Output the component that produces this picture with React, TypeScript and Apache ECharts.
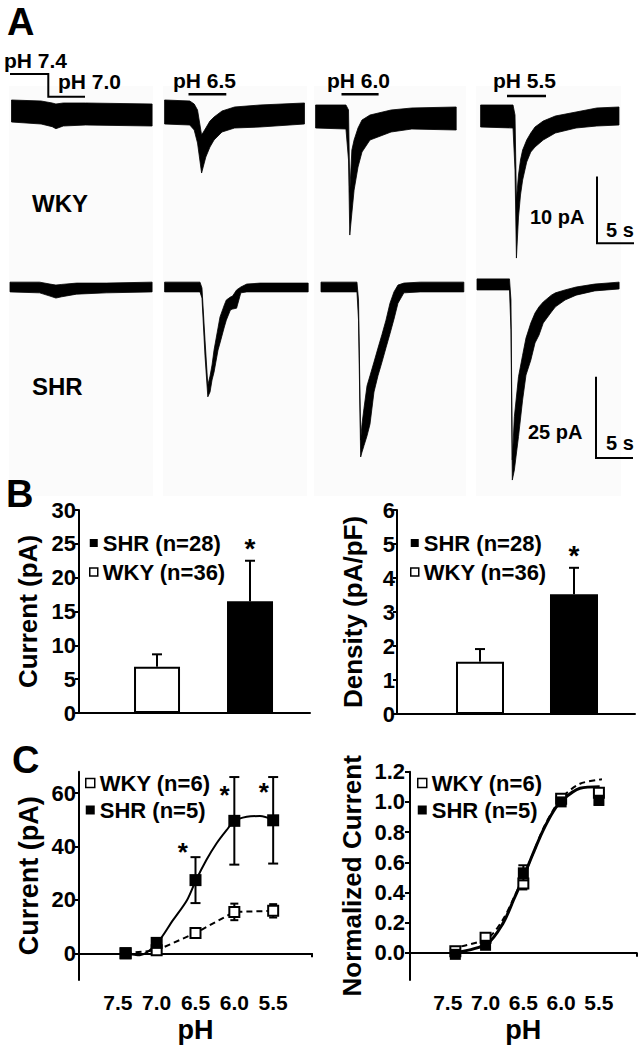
import React, { useEffect, useRef } from "react";
import * as echarts from "echarts";

const FONT = "'Liberation Sans', Arial, Helvetica, sans-serif";

// ---------------- Panel A: current traces ----------------
// time (s), upper and lower edge of the noisy trace band (pA)
const wky70T = [0, 4, 5.5, 6, 7, 10, 19];
const wky70Up = [1.8, 1.65, 1.35, 1.2, 1.35, 1.35, 1.2];
const wky70Lo = [-1.5, -1.8, -2.2, -2.5, -2.1, -1.95, -2.1];

const wky65T = [0, 3.4, 4.0, 4.45, 5.0, 5.57, 6.13, 6.68, 7.76, 9.46, 12.9, 18.9];
const wky65Up = [1.8, 1.65, 1.2, 0.3, -3.45, -2.4, -1.35, -0.75, 0.15, 0.75, 1.05, 1.35];
const wky65Lo = [-1.8, -1.95, -2.7, -4.65, -9.15, -6.75, -5.25, -4.2, -3.0, -2.4, -2.25, -1.8];

const wky60T = [0, 4.1, 4.45, 4.62, 4.9, 5.2, 5.73, 6.27, 7.35, 10.2, 13, 19];
const wky60Up = [1.05, 1.05, 0.3, -12, -5.7, -4.2, -2.4, -1.2, -0.45, 0.3, 0.6, 0.75];
const wky60Lo = [-2.4, -2.55, -7.2, -18.45, -15.15, -11.7, -8.25, -6, -4.2, -3.0, -2.55, -2.7];

const wky55T = [0, 4.38, 4.65, 4.84, 5.12, 5.39, 5.68, 6.23, 6.78, 7.35, 8.46, 10.1, 12.9, 15.7, 18.7];
const wky55Up = [1.05, 1.05, -0.45, -13.2, -9.45, -7.2, -5.7, -4.2, -3.15, -2.25, -1.35, -0.6, 0, 0.6, 0.75];
const wky55Lo = [-2.25, -2.4, -8.7, -21.9, -15.75, -12.45, -10.2, -7.5, -6.0, -5.25, -4.2, -3.15, -2.4, -2.1, -1.95];

const shr70T = [0, 4, 5.4, 6.2, 7, 9, 13, 19.2];
const shr70Up = [1.5, 1.5, 0.9, 0.6, 0.8, 1.2, 1.2, 1.5];
const shr70Lo = [-1.5, -1.8, -2.8, -3.4, -3.0, -2.2, -1.8, -1.5];

const shr65T = [0, 4.78, 5.05, 5.46, 5.84, 6.14, 6.41, 6.68, 7.22, 7.49, 8.07, 8.34, 8.89, 9.18, 9.73, 10.3, 11.1, 12.9, 19.4];
const shr65Up = [1.5, 1.5, -0.3, -16.3, -30.2, -27.4, -24, -19.4, -12.6, -9.2, -5.5, -4, -3.1, -2.8, -0.9, 0, 0.9, 1.2, 1.2];
const shr65Lo = [-1.5, -1.5, -3.4, -21.2, -33.8, -32.3, -28.6, -26.2, -19.4, -17.2, -12.3, -10.2, -7.1, -6.8, -6.5, -1.8, -1.5, -1.5, -1.5];

const shr60T = [0, 4.86, 5.07, 5.36, 5.54, 5.81, 6.22, 6.62, 7.16, 7.7, 8.24, 8.78, 9.32, 9.86, 10.4, 11.2, 13.4, 19.3];
const shr60Up = [1.5, 1.5, -4, -47.1, -42.2, -37.3, -30.4, -27.3, -23.1, -18.8, -14.6, -10.2, -5.0, -1.5, 0.6, 1.2, 1.5, 1.5];
const shr60Lo = [-1.5, -1.5, -10.2, -52.3, -50.8, -48.8, -45.8, -42.2, -32.3, -27.3, -23.1, -18.7, -14.4, -9.9, -5.0, -1.8, -1.5, -1.5];

const shr55T = [0, 4.39, 4.59, 4.77, 5.05, 5.61, 6.16, 6.62, 7.27, 7.84, 8.38, 8.95, 10.05, 10.6, 11.9, 13.4, 15.9, 19.2];
const shr55Up = [2.5, 2.5, -4, -53.2, -39.9, -27.6, -21.0, -15.7, -11.1, -8.0, -6.1, -4.6, -2.5, -1.8, -0.9, 0, 0.9, 1.5];
const shr55Lo = [-0.9, -0.9, -13.2, -59.4, -56.3, -46, -34.8, -27.1, -22.5, -17.2, -14.8, -11.1, -7.7, -6.1, -4.0, -2.5, -1.2, -0.6];

const stepLabels = ["pH 6.5", "pH 6.0", "pH 5.5"];
const wkyScale = { pA: 10, s: 5 };
const shrScale = { pA: 25, s: 5 };

// ---------------- Panel B ----------------
const bGroups = ["WKY (n=36)", "SHR (n=28)"];
const bCurrentMean = [6.84, 16.5];
const bCurrentSem = [1.83, 6.0];
const bDensityMean = [1.54, 3.52];
const bDensitySem = [0.37, 0.78];

// ---------------- Panel C ----------------
const cGroups = ["WKY (n=6)", "SHR (n=5)"];
const cPh = [7.4, 7.0, 6.5, 6.0, 5.5];
const cPhLabels = [7.5, 7.0, 6.5, 6.0, 5.5];
const cWkyCurrent = [0, 1.1, 7.6, 15.5, 15.9];
const cWkyCurrentSem = [0.4, 0.5, 1.0, 3.1, 2.5];
const cShrCurrent = [0, 3.9, 27.4, 49.6, 49.8];
const cShrCurrentSem = [0.5, 1.2, 8.6, 16.4, 16.2];
const cCurrentTicks = [0, 20, 40, 60];

const cWkyNorm = [0.01, 0.1, 0.46, 1.02, 1.06];
const cWkyNormSem = [0.01, 0.02, 0.04, 0.03, 0.03];
const cShrNorm = [-0.01, 0.05, 0.53, 1.0, 1.01];
const cShrNormSem = [0.01, 0.02, 0.05, 0.02, 0.03];
const cNormTicks = [0, 0.2, 0.4, 0.6, 0.8, 1.0, 1.2];

// fitted curves
const fitShrCurrentPh = [7.4, 7.215, 7.0, 6.79, 6.61, 6.5, 6.36, 6.23, 6.1, 6.0, 5.84, 5.67, 5.5];
const fitShrCurrent = [0, -0.75, 3.6, 12.4, 19.9, 27.0, 34.9, 41.1, 46.1, 49.5, 51.1, 51.4, 50.0];
const fitShrNormPh = [7.4, 6.98, 6.77, 6.63, 6.5, 6.37, 6.24, 6.1, 5.99, 5.75, 5.49];
const fitShrNorm = [0.0, 0.06, 0.195, 0.35, 0.5, 0.66, 0.81, 0.94, 1.01, 1.09, 1.1];
const fitWkyNormPh = [7.45, 6.98, 6.77, 6.63, 6.5, 6.37, 6.24, 6.1, 5.99, 5.75, 5.46];
const fitWkyNorm = [0.03, 0.095, 0.22, 0.36, 0.5, 0.66, 0.82, 0.95, 1.03, 1.12, 1.15];

// ---------------- layout ----------------
const PX_PER_S = 7.4;
const WKY_PX_PER_PA = 6.67;
const SHR_PX_PER_PA = 3.25;
const WKY_ZERO = 112;
const SHR_ZERO = 287;
const T_MAX = 19.5;

const bold = (size: number) => ({ fontSize: size, fontWeight: "bold" as const, fontFamily: FONT, color: "#000" });

function band(idx: number, t: number[], up: number[], lo: number[]) {
  return {
    type: "custom",
    xAxisIndex: idx,
    yAxisIndex: idx,
    silent: true,
    clip: false,
    data: t.map((v, i) => [v, up[i], lo[i]]),
    renderItem: (params: any, api: any) => {
      if (params.dataIndex !== 0) return null;
      const pts: number[][] = [];
      for (let i = 0; i < t.length; i++) pts.push(api.coord([t[i], up[i]]));
      for (let i = t.length - 1; i >= 0; i--) pts.push(api.coord([t[i], lo[i]]));
      return {
        type: "polygon",
        shape: { points: pts },
        style: { fill: "#000", stroke: "#000", lineWidth: 0.8, lineJoin: "round" },
      };
    },
  };
}

function errSeries(idx: number, data: number[][], cap: number, both: boolean, z = 3) {
  return {
    type: "custom",
    xAxisIndex: idx,
    yAxisIndex: idx,
    silent: true,
    z,
    data,
    encode: { x: 0, y: [1, 2] },
    renderItem: (params: any, api: any) => {
      const x = api.value(0);
      const p0 = api.coord([x, api.value(1)]);
      const p1 = api.coord([x, api.value(2)]);
      const st = { stroke: "#000", lineWidth: 2 };
      const children: any[] = [
        { type: "line", shape: { x1: p0[0], y1: p0[1], x2: p1[0], y2: p1[1] }, style: st },
        { type: "line", shape: { x1: p1[0] - cap, y1: p1[1], x2: p1[0] + cap, y2: p1[1] }, style: st },
      ];
      if (both) children.push({ type: "line", shape: { x1: p0[0] - cap, y1: p0[1], x2: p0[0] + cap, y2: p0[1] }, style: st });
      return { type: "group", children };
    },
  };
}

function starSeries(idx: number, data: number[][], size: number) {
  return {
    type: "custom",
    xAxisIndex: idx,
    yAxisIndex: idx,
    silent: true,
    z: 6,
    data,
    renderItem: (params: any, api: any) => {
      const p = api.coord([api.value(0), api.value(1)]);
      return {
        type: "text",
        x: p[0],
        y: p[1] + size * 0.2,
        style: { text: "*", fontSize: size, fontWeight: "bold", fontFamily: FONT, fill: "#000", align: "center", verticalAlign: "middle" },
      };
    },
  };
}

function buildOption() {
  const wkyX0 = [11.5, 164.6, 315.6, 480.6];
  const shrX0 = [10, 164.6, 321, 477];
  const traces = [
    [wky70T, wky70Up, wky70Lo], [wky65T, wky65Up, wky65Lo], [wky60T, wky60Up, wky60Lo], [wky55T, wky55Up, wky55Lo],
    [shr70T, shr70Up, shr70Lo], [shr65T, shr65Up, shr65Lo], [shr60T, shr60Up, shr60Lo], [shr55T, shr55Up, shr55Lo],
  ];
  const grids: any[] = [];
  const xAxes: any[] = [];
  const yAxes: any[] = [];
  const series: any[] = [];

  for (let i = 0; i < 8; i++) {
    const wky = i < 4;
    const pxPa = wky ? WKY_PX_PER_PA : SHR_PX_PER_PA;
    const yMax = wky ? 3 : 6;
    const yMin = wky ? -24 : -66;
    const zero = wky ? WKY_ZERO : SHR_ZERO;
    grids.push({
      left: (wky ? wkyX0 : shrX0)[i % 4],
      top: zero - yMax * pxPa,
      width: T_MAX * PX_PER_S,
      height: (yMax - yMin) * pxPa,
      outerBoundsMode: "none",
    });
    xAxes.push({ gridIndex: i, type: "value", min: 0, max: T_MAX, show: false });
    yAxes.push({ gridIndex: i, type: "value", min: yMin, max: yMax, show: false });
    const [t, up, lo] = traces[i];
    series.push(band(i, t, up, lo));
  }

  const axisLine = { show: true, lineStyle: { color: "#000", width: 2 } };
  const axisTick = { show: true, length: 4, lineStyle: { color: "#000", width: 2 } };

  // ---- B left (index 8)
  grids.push({ left: 79, top: 510, width: 231, height: 203, outerBoundsMode: "none" });
  xAxes.push({ gridIndex: 8, type: "value", min: 0.161, max: 2.645, axisLine, axisTick: { show: false }, axisLabel: { show: false }, splitLine: { show: false } });
  yAxes.push({
    gridIndex: 8, type: "value", min: 0, max: 30, interval: 5, axisLine, axisTick,
    axisLabel: { ...bold(22), margin: 3 }, splitLine: { show: false },
    name: "Current (pA)", nameLocation: "middle", nameGap: 38, nameTextStyle: bold(26),
  });
  // ---- B right (index 9)
  grids.push({ left: 397, top: 510, width: 238, height: 204, outerBoundsMode: "none" });
  xAxes.push({ gridIndex: 9, type: "value", min: 0.117, max: 2.649, axisLine, axisTick: { show: false }, axisLabel: { show: false }, splitLine: { show: false } });
  yAxes.push({
    gridIndex: 9, type: "value", min: 0, max: 6, interval: 1, axisLine, axisTick,
    axisLabel: { ...bold(22), margin: 2 }, splitLine: { show: false },
    name: "Density (pA/pF)", nameLocation: "middle", nameGap: 31, nameTextStyle: bold(26),
  });

  const barDefs = [
    { idx: 8, mean: bCurrentMean, sem: bCurrentSem, w: 46 },
    { idx: 9, mean: bDensityMean, sem: bDensitySem, w: 48 },
  ];
  barDefs.forEach((d) => {
    bGroups.forEach((g, j) => {
      series.push({
        type: "bar", name: g, xAxisIndex: d.idx, yAxisIndex: d.idx, barWidth: d.w, barGap: "-100%",
        data: [[j + 1, d.mean[j]]],
        itemStyle: j === 0 ? { color: "#fff", borderColor: "#000", borderWidth: 2 } : { color: "#000", borderColor: "#000", borderWidth: 2 },
        silent: true,
      });
    });
    series.push(errSeries(d.idx, d.mean.map((m, j) => [j + 1, m, m + d.sem[j]]), 5, false));
  });
  series.push(starSeries(8, [[2, 25.1]], 28));
  series.push(starSeries(9, [[2, 4.82]], 28));

  // ---- C left (index 10) / C right (index 11)
  const cX = (idx: number) => ({
    gridIndex: idx, type: "value", inverse: true, min: 5, max: 8, offset: 3,
    axisLine, axisTick: { ...axisTick, customValues: [5, 8] },
    axisLabel: { ...bold(21), margin: 9, customValues: cPhLabels, formatter: (v: number) => v.toFixed(1) },
    splitLine: { show: false },
    name: "pH", nameLocation: "middle", nameGap: 33, nameTextStyle: bold(27),
  });
  grids.push({ left: 79, top: 771.7, width: 233, height: 208.3, outerBoundsMode: "none" });
  xAxes.push(cX(10));
  yAxes.push({
    gridIndex: 10, type: "value", min: -10, max: 68, axisLine,
    axisTick: { ...axisTick, customValues: cCurrentTicks },
    axisLabel: { ...bold(22), margin: 3, customValues: cCurrentTicks },
    splitLine: { show: false },
    name: "Current (pA)", nameLocation: "middle", nameGap: 37, nameTextStyle: bold(27),
  });
  grids.push({ left: 410, top: 771.7, width: 226.7, height: 208.3, outerBoundsMode: "none" });
  xAxes.push(cX(11));
  yAxes.push({
    gridIndex: 11, type: "value", min: -0.18, max: 1.2, axisLine,
    axisTick: { ...axisTick, length: 5, customValues: cNormTicks },
    axisLabel: { ...bold(22), margin: 5, customValues: cNormTicks, formatter: (v: number) => v.toFixed(1) },
    splitLine: { show: false },
    name: "Normalized Current", nameLocation: "middle", nameGap: 45, nameTextStyle: bold(26),
  });

  // C left: WKY dashed connection, SHR fit
  series.push({
    type: "line", name: "wkyLink", xAxisIndex: 10, yAxisIndex: 10, symbol: "none", silent: true, z: 2,
    data: cPh.map((p, i) => [p, cWkyCurrent[i]]),
    lineStyle: { color: "#000", width: 2, type: [6, 4] },
  });
  series.push({
    type: "line", name: "shrFit", xAxisIndex: 10, yAxisIndex: 10, symbol: "none", silent: true, smooth: 0.3, z: 2,
    data: fitShrCurrentPh.map((p, i) => [p, fitShrCurrent[i]]),
    lineStyle: { color: "#000", width: 2 },
  });
  // C right fits
  series.push({
    type: "line", name: "wkyNormFit", xAxisIndex: 11, yAxisIndex: 11, symbol: "none", silent: true, smooth: 0.3, z: 2,
    data: fitWkyNormPh.map((p, i) => [p, fitWkyNorm[i]]),
    lineStyle: { color: "#000", width: 2, type: [6, 4] },
  });
  series.push({
    type: "line", name: "shrNormFit", xAxisIndex: 11, yAxisIndex: 11, symbol: "none", silent: true, smooth: 0.3, z: 2,
    data: fitShrNormPh.map((p, i) => [p, fitShrNorm[i]]),
    lineStyle: { color: "#000", width: 3 },
  });

  const cDefs = [
    { idx: 10, wky: cWkyCurrent, wkySem: cWkyCurrentSem, shr: cShrCurrent, shrSem: cShrCurrentSem, sW: 10, sS: 12 },
    { idx: 11, wky: cWkyNorm, wkySem: cWkyNormSem, shr: cShrNorm, shrSem: cShrNormSem, sW: 10, sS: 11 },
  ];
  cDefs.forEach((d) => {
    series.push(errSeries(d.idx, cPh.map((p, i) => [p, d.wky[i] - d.wkySem[i], d.wky[i] + d.wkySem[i]]), 4, true, 3));
    series.push({
      type: "scatter", name: cGroups[0], xAxisIndex: d.idx, yAxisIndex: d.idx, symbol: "rect", symbolSize: d.sW, z: 4, silent: true,
      data: cPh.map((p, i) => [p, d.wky[i]]),
      itemStyle: { color: "#fff", borderColor: "#000", borderWidth: 2, opacity: 1 },
    });
    series.push(errSeries(d.idx, cPh.map((p, i) => [p, d.shr[i] - d.shrSem[i], d.shr[i] + d.shrSem[i]]), 5, true, 5));
    series.push({
      type: "scatter", name: cGroups[1], xAxisIndex: d.idx, yAxisIndex: d.idx, symbol: "rect", symbolSize: d.sS, z: 6, silent: true,
      data: cPh.map((p, i) => [p, d.shr[i]]),
      itemStyle: { color: "#000", opacity: 1 },
    });
  });
  series.push(starSeries(10, [[6.664, 39.9], [6.125, 61.1], [5.62, 62.4]], 26));

  const bLegendData = [
    { name: bGroups[1], icon: "rect", itemStyle: { color: "#000", borderColor: "#000", borderWidth: 0 } },
    { name: bGroups[0], icon: "rect", itemStyle: { color: "#fff", borderColor: "#000", borderWidth: 1.5 } },
  ];
  const cLegendData = [
    { name: cGroups[0], icon: "rect", itemStyle: { color: "#fff", borderColor: "#000", borderWidth: 1.5 } },
    { name: cGroups[1], icon: "rect", itemStyle: { color: "#000", borderColor: "#000", borderWidth: 0 } },
  ];
  const legendBase = {
    orient: "vertical", padding: 0, selectedMode: false, itemWidth: 8, itemHeight: 8, itemGap: 7, textStyle: bold(22),
  };
  const legend = [
    { ...legendBase, left: 89, top: 532, data: bLegendData },
    { ...legendBase, left: 410, top: 532, data: bLegendData },
    { ...legendBase, left: 85, top: 772, itemGap: 5, itemWidth: 9, itemHeight: 9, data: cLegendData },
    { ...legendBase, left: 417, top: 772, itemGap: 5, itemWidth: 9, itemHeight: 9, data: cLegendData },
  ];

  const txt = (text: string, x: number, y: number, size: number) => ({
    type: "text", x, y, z: 10,
    style: { text, fontSize: size, fontWeight: "bold", fontFamily: FONT, fill: "#000", align: "left", verticalAlign: "middle" },
  });
  const ln = (x1: number, y1: number, x2: number, y2: number, w = 2) => ({
    type: "line", z: 10, shape: { x1, y1, x2, y2 }, style: { stroke: "#000", lineWidth: w },
  });

  const wkyBarBottom = 243.3;
  const shrBarBottom = 458;
  const graphic: any[] = [
    // faint panel backgrounds
    ...[[9, 153], [163, 307], [314, 466], [476, 621]].map(([a, b]) => ({
      type: "rect", z: -10, silent: true, shape: { x: a, y: 86, width: b - a, height: 410 }, style: { fill: "#fbfbfb" },
    })),
    txt("A", 7, 21.5, 38),
    txt("B", 6, 494, 38),
    txt("C", 12, 759.5, 38),
    txt("pH 7.4", 4, 60, 21),
    txt("pH 7.0", 58, 81, 21),
    { type: "polyline", z: 10, shape: { points: [[10, 74], [48.3, 74], [48.3, 96.7], [85, 96.7]] }, style: { stroke: "#000", lineWidth: 2, fill: null } },
    txt(stepLabels[0], 173, 80, 21),
    txt(stepLabels[1], 327, 80, 21),
    txt(stepLabels[2], 493, 80.5, 21),
    ln(188.5, 94.3, 226.3, 94.3, 2.5),
    ln(341.5, 94.3, 378.6, 94.3, 2.5),
    ln(507, 96, 546, 96, 2.5),
    txt("WKY", 32, 203, 24),
    txt("SHR", 32, 386.7, 24),
    // scale bars
    ln(597, wkyBarBottom - wkyScale.pA * WKY_PX_PER_PA, 597, wkyBarBottom),
    ln(596, wkyBarBottom, 597 + wkyScale.s * PX_PER_S, wkyBarBottom),
    txt(`${wkyScale.pA} pA`, 530, 216.7, 20),
    txt(`${wkyScale.s} s`, 606, 230, 20),
    ln(596, shrBarBottom - shrScale.pA * SHR_PX_PER_PA, 596, shrBarBottom),
    ln(595, shrBarBottom, 596 + shrScale.s * PX_PER_S, shrBarBottom),
    txt(`${shrScale.pA} pA`, 528, 431.7, 20),
    txt(`${shrScale.s} s`, 606, 442.7, 20),
  ];

  return {
    animation: false,
    backgroundColor: "#fff",
    textStyle: { fontFamily: FONT },
    grid: grids,
    xAxis: xAxes,
    yAxis: yAxes,
    legend,
    series,
    graphic,
  };
}

export default function App() {
  const ref = useRef<HTMLDivElement>(null);
  useEffect(() => {
    document.body.style.margin = "0";
    if (!ref.current) return;
    const chart = echarts.init(ref.current, undefined, { renderer: "svg" });
    chart.setOption(buildOption() as any);
    return () => chart.dispose();
  }, []);
  return <div ref={ref} style={{ width: 642, height: 1048, background: "#fff" }} />;
}
